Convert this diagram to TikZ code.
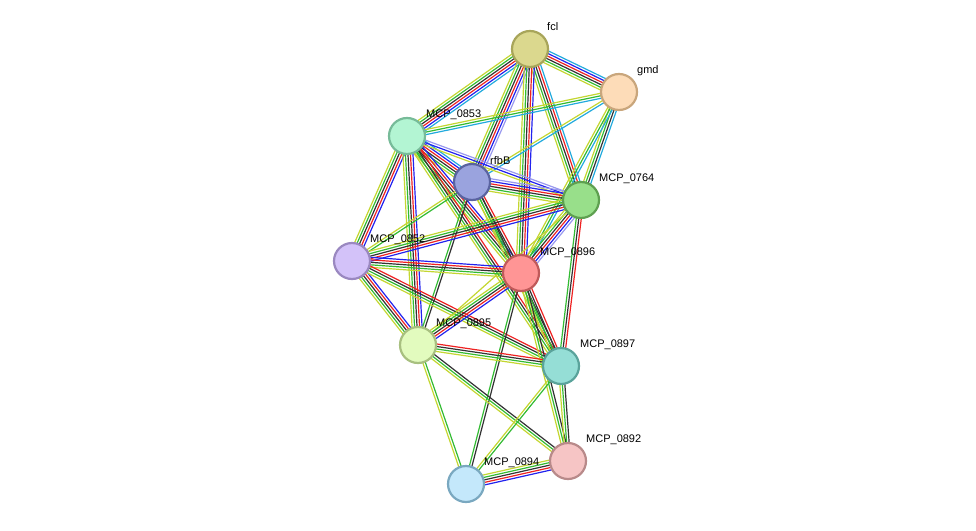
\documentclass[tikz,border=0pt]{standalone}
\usepackage{fontspec}
\setmainfont{Liberation Sans}
\usetikzlibrary{calc}
\definecolor{gn}{HTML}{33BB33}
\definecolor{rd}{HTML}{EE2222}
\definecolor{bl}{HTML}{2222EE}
\definecolor{bk}{HTML}{333333}
\definecolor{yl}{HTML}{C4D631}
\definecolor{lb}{HTML}{22AADD}
\definecolor{lv}{HTML}{9999EE}
\newcommand\edg[3]{%
 \foreach \c [count=\n] in {#3}{\xdef\nn{\n}}%
 \foreach \c [count=\i] in {#3}{\pgfmathsetmacro\d{(\i-(\nn+1)/2)*2.5}%
  \draw[\c, line width=1.2pt] ($(#1)!\d pt!90:(#2)$) -- ($(#2)!\d pt!-90:(#1)$);}}
\tikzset{
 prot/.style args={#1/#2}{circle, minimum size=36pt, inner sep=0pt, line width=2.2pt,
   /utils/exec={\definecolor{pf}{HTML}{#1}\definecolor{pd}{HTML}{#2}}, fill=pf, draw=pd},
 lab/.style={anchor=west, font=\fontsize{11}{13}\selectfont, inner sep=1pt}
}
\begin{document}
\begin{tikzpicture}[x=1pt,y=-1pt]
\useasboundingbox (0,0) rectangle (976,530);
\coordinate (fcl) at (530,49);
\coordinate (gmd) at (619,92);
\coordinate (c853) at (407,136);
\coordinate (rfbB) at (472,182);
\coordinate (c764) at (581,200);
\coordinate (c852) at (352,261);
\coordinate (c896) at (521,273);
\coordinate (c895) at (418,345);
\coordinate (c897) at (561,366);
\coordinate (c892) at (568,461);
\coordinate (c894) at (466,484);
\edg{fcl}{gmd}{yl,gn,bk,rd,bl,lb}
\edg{fcl}{c853}{yl,gn,bk,rd,bl,lb}
\edg{fcl}{rfbB}{yl,gn,bk,rd,bl,lv}
\edg{fcl}{c764}{yl,gn,bk,rd,lb}
\edg{fcl}{c896}{yl,gn,bk,rd,bl}
\edg{gmd}{c853}{yl,gn,lb}
\edg{gmd}{rfbB}{yl,lb}
\edg{gmd}{c764}{yl,gn,bk,lb}
\edg{gmd}{c896}{yl,gn,lb}
\edg{c853}{rfbB}{yl,gn,bk,rd,bl,lb}
\edg{c853}{c764}{yl,bl,lv}
\edg{c853}{c896}{yl,gn,bk,rd,bl}
\edg{c853}{c852}{yl,gn,bk,rd,bl}
\edg{c853}{c895}{yl,gn,bk,rd,bl}
\edg{c853}{c897}{yl,gn,bk,rd}
\edg{rfbB}{c764}{yl,gn,bk,rd,bl,lv}
\edg{rfbB}{c896}{yl,gn,bk,rd}
\edg{rfbB}{c852}{yl,gn}
\edg{rfbB}{c895}{gn,bk}
\edg{rfbB}{c897}{yl,gn,bk}
\edg{c764}{c852}{yl,gn,bk,rd,bl}
\edg{c764}{c896}{yl,gn,bk,rd,bl,lv}
\edg{c764}{c897}{gn,bk,rd}
\edg{c764}{c895}{yl}
\edg{c852}{c896}{yl,gn,bk,rd,bl}
\edg{c852}{c895}{yl,gn,bk,rd,bl}
\edg{c852}{c897}{yl,gn,bk,rd}
\edg{c896}{c895}{yl,gn,bk,rd,bl}
\edg{c896}{c897}{yl,gn,bk,rd}
\edg{c896}{c892}{yl,gn,bk}
\edg{c896}{c894}{gn,bk}
\edg{c895}{c897}{yl,gn,bk,rd}
\edg{c895}{c892}{yl,gn,bk}
\edg{c895}{c894}{yl,gn}
\edg{c897}{c892}{yl,gn,bk}
\edg{c897}{c894}{yl,gn}
\edg{c892}{c894}{yl,gn,bk,rd,bl}
\node[prot={DBD88E/A8A55A}] (nfcl) at (fcl) {};
\node[prot={FDDCB8/C9A67C}] (ngmd) at (gmd) {};
\node[prot={B3F5D3/77BB99}] (n853) at (c853) {};
\node[prot={9AA3DE/5A63A0}] (nrfbB) at (rfbB) {};
\node[prot={98DF8A/5EA050}] (n764) at (c764) {};
\node[prot={D3C2F9/9A88C0}] (n852) at (c852) {};
\node[prot={FF9595/C05A5A}] (n896) at (c896) {};
\node[prot={E2FBBE/A8C080}] (n895) at (c895) {};
\node[prot={95DED6/5AA39B}] (n897) at (c897) {};
\node[prot={F6C5C5/B88A8A}] (n892) at (c892) {};
\node[prot={C4E8FB/7AA8C0}] (n894) at (c894) {};
\node[lab] (lfcl) at (546,27) {fcl};
\node[lab] (lgmd) at (636,71) {gmd};
\node[lab] (l853) at (425,115) {MCP\_0853};
\node[lab] (lrfbB) at (489,161) {rfbB};
\node[lab] (l764) at (598,179) {MCP\_0764};
\node[lab] (l852) at (369,240) {MCP\_0852};
\node[lab] (l896) at (539,253) {MCP\_0896};
\node[lab] (l895) at (435,324) {MCP\_0895};
\node[lab] (l897) at (579,345) {MCP\_0897};
\node[lab] (l892) at (585,440) {MCP\_0892};
\node[lab] (l894) at (483,463) {MCP\_0894};
\end{tikzpicture}
\end{document}
